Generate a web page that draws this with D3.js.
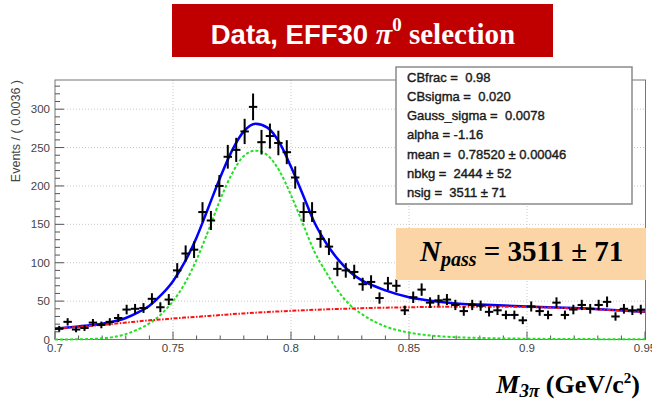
<!DOCTYPE html>
<html>
<head>
<meta charset="utf-8">
<script src="https://cdn.jsdelivr.net/npm/d3@7"></script>
<style>
  body { margin: 0; background: #fff; }
  svg { display: block; }
  text { white-space: pre; }
</style>
</head>
<body>
<svg id="chart" width="652" height="406"></svg>
<script>
// ---- histogram: M(3pi) in 70 bins between 0.70 and 0.95 GeV/c^2 ----
const massLow = 0.7;
const massHigh = 0.95;
const binCounts = [
  14, 23, 13, 15, 22, 19, 23, 28, 39, 40,
  41, 53, 42, 52, 90, 112, 117, 166, 155, 200,
  238, 247, 271, 303, 257, 265, 256, 244, 211, 166,
  166, 131, 121, 92, 90, 88, 72, 75, 54, 73,
  70, 38, 55, 65, 48, 51, 52, 45, 37, 45,
  44, 36, 38, 32, 32, 25, 43, 37, 32, 48,
  32, 39, 45, 40, 45, 49, 30, 40, 38, 39
];

// ---- fitted model, sampled along the mass axis ----
const curveMass = [0.70, 0.71, 0.72, 0.73, 0.735, 0.74, 0.745, 0.75, 0.755, 0.76,
                   0.765, 0.77, 0.775, 0.78, 0.785, 0.79, 0.795, 0.80, 0.805, 0.81,
                   0.815, 0.82, 0.825, 0.83, 0.835, 0.84, 0.85, 0.86, 0.87, 0.88,
                   0.90, 0.92, 0.95];
const totalFit = [14, 17, 20.5, 28, 35, 44, 58, 76, 101, 133,
                  172, 211, 246, 271, 281, 276, 257, 225, 189, 152,
                  125, 104, 88, 77, 70, 64, 55, 50, 47, 45.5,
                  43, 41, 36];
const signalFit = [0, 0.3, 1.5, 7, 13, 21, 33, 50, 73, 104,
                   142, 182, 216, 239, 246, 240, 220, 188, 151, 114,
                   87, 63, 45, 33, 24, 17, 9, 5, 3, 2,
                   1, 0.6, 0.3];
const backgroundFit = [14, 16.5, 19, 22, 23.5, 25, 26, 27.3, 28.5, 29.5,
                       30.7, 31.8, 33, 34, 35, 35.8, 36.6, 37.3, 38, 38.7,
                       39.3, 39.8, 40.3, 40.8, 41.2, 41.5, 42, 42.5, 42.8, 42.8,
                       42.3, 40.5, 36];

// ---- axes and annotations ----
const xMajorTicks = [0.7, 0.75, 0.8, 0.85, 0.9, 0.95];
const xTickLabels = ["0.7", "0.75", "0.8", "0.85", "0.9", "0.95"];
const yMajorTicks = [0, 50, 100, 150, 200, 250, 300];
const yAxisTitle = "Events / ( 0.0036 )";
const fitParameters = [
  "CBfrac =  0.98",
  "CBsigma =  0.020",
  "Gauss_sigma =  0.0078",
  "alpha = -1.16",
  "mean =  0.78520 \u00b1 0.00046",
  "nbkg =  2444 \u00b1 52",
  "nsig =  3511 \u00b1 71"
];
const nPassValue = "3511";
const nPassError = "71";

// ---- layout ----
const frame = { left: 55, right: 645.5, top: 80, bottom: 339.5 };
const svg = d3.select("#chart");

const x = d3.scaleLinear().domain([massLow, massHigh]).range([frame.left, 645]);
const y = d3.scaleLinear().domain([0, 338]).range([frame.bottom, frame.top]);

const sans = "'Liberation Sans', Arial, Helvetica, sans-serif";
const serif = "'Liberation Serif', 'Times New Roman', serif";
const axisGrey = "#555";

// grid
const grid = svg.append("g").attr("stroke", "#c8c8c8").attr("stroke-width", 1)
  .attr("stroke-dasharray", "1,2");
grid.selectAll("line.gx").data(xMajorTicks.slice(1, -1)).join("line")
  .attr("x1", d => x(d)).attr("x2", d => x(d))
  .attr("y1", frame.top).attr("y2", frame.bottom);
grid.selectAll("line.gy").data(yMajorTicks.slice(1)).join("line")
  .attr("x1", frame.left).attr("x2", frame.right)
  .attr("y1", d => y(d)).attr("y2", d => y(d));

// frame
svg.append("rect")
  .attr("x", frame.left).attr("y", frame.top)
  .attr("width", frame.right - frame.left).attr("height", frame.bottom - frame.top)
  .attr("fill", "none").attr("stroke", "#777").attr("stroke-width", 1);

// x ticks (drawn inward, ROOT style)
const xMinor = d3.range(0, 26).map(i => massLow + i * 0.01);
svg.append("g").attr("stroke", axisGrey).attr("stroke-width", 1)
  .selectAll("line").data(xMinor).join("line")
  .attr("x1", d => x(d)).attr("x2", d => x(d))
  .attr("y1", frame.bottom)
  .attr("y2", (d, i) => frame.bottom - (i % 5 === 0 ? 8 : 4));

// y ticks
const yMinor = d3.range(0, 34).map(i => i * 10);
svg.append("g").attr("stroke", axisGrey).attr("stroke-width", 1)
  .selectAll("line").data(yMinor).join("line")
  .attr("x1", frame.left)
  .attr("x2", (d, i) => frame.left + (i % 5 === 0 ? 9 : 5))
  .attr("y1", d => y(d)).attr("y2", d => y(d));

// tick labels
svg.append("g").selectAll("text").data(xMajorTicks).join("text")
  .attr("x", d => x(d)).attr("y", 352)
  .attr("text-anchor", "middle")
  .attr("font-family", sans).attr("font-size", 11.5).attr("fill", "#444")
  .text((d, i) => xTickLabels[i]);
svg.append("g").selectAll("text").data(yMajorTicks).join("text")
  .attr("x", 50).attr("y", d => y(d) + 4)
  .attr("text-anchor", "end")
  .attr("font-family", sans).attr("font-size", 11.5).attr("fill", "#444")
  .text(d => d);

// y axis title
svg.append("text")
  .attr("transform", "translate(20,80) rotate(-90)")
  .attr("text-anchor", "end")
  .attr("font-family", sans).attr("font-size", 12.5).attr("fill", "#444")
  .text(yAxisTitle);

// fit curves
const fitLine = vals => d3.line()
  .x((d, i) => x(curveMass[i]))
  .y(d => y(d))
  .curve(d3.curveMonotoneX)(vals);

svg.append("path").attr("d", fitLine(totalFit))
  .attr("fill", "none").attr("stroke", "#0000ff").attr("stroke-width", 2.5);
svg.append("path").attr("d", fitLine(signalFit))
  .attr("fill", "none").attr("stroke", "#22e022").attr("stroke-width", 2)
  .attr("stroke-dasharray", "3,2");
svg.append("path").attr("d", fitLine(backgroundFit))
  .attr("fill", "none").attr("stroke", "#ff1010").attr("stroke-width", 2)
  .attr("stroke-dasharray", "4,1.5,1.5,1.5");

// data points with Poisson errors
const binWidth = (massHigh - massLow) / binCounts.length;
const points = svg.append("g").attr("stroke", "#000").attr("stroke-width", 2);
binCounts.forEach((n, i) => {
  const lo = massLow + i * binWidth;
  const c = lo + binWidth / 2;
  const err = Math.sqrt(n);
  points.append("line")
    .attr("x1", x(lo)).attr("x2", x(lo + binWidth))
    .attr("y1", y(n)).attr("y2", y(n));
  points.append("line")
    .attr("x1", x(c)).attr("x2", x(c))
    .attr("y1", y(n - err)).attr("y2", y(n + err));
});

// parameter box
svg.append("rect")
  .attr("x", 396).attr("y", 67).attr("width", 236).attr("height", 137)
  .attr("fill", "#fff").attr("stroke", "#8a8a8a").attr("stroke-width", 1.5);
svg.append("g").selectAll("text").data(fitParameters).join("text")
  .attr("x", 407).attr("y", (d, i) => 81.5 + i * 19.3)
  .attr("font-family", sans).attr("font-size", 13).attr("fill", "#1a1a1a")
  .attr("stroke", "#1a1a1a").attr("stroke-width", 0.4)
  .text(d => d);

// N_pass highlight
svg.append("rect")
  .attr("x", 396).attr("y", 228).attr("width", 250).attr("height", 52)
  .attr("fill", "#fbd5a6");
const np = svg.append("text")
  .attr("x", 420).attr("y", 261)
  .attr("font-family", serif).attr("font-weight", "bold").attr("fill", "#000")
  .attr("font-size", 29);
np.append("tspan").attr("font-style", "italic").text("N");
np.append("tspan").attr("font-style", "italic").attr("font-size", 20).attr("dy", 5).text("pass");
np.append("tspan").attr("dy", -5).text(" = " + nPassValue + " \u00b1 " + nPassError);

// title banner
svg.append("rect")
  .attr("x", 172).attr("y", 4).attr("width", 381).attr("height", 53)
  .attr("fill", "#c00000");
const title = svg.append("text")
  .attr("x", 363).attr("y", 43.5).attr("text-anchor", "middle")
  .attr("fill", "#fff").attr("font-weight", "bold");
title.append("tspan").attr("font-family", sans).attr("font-size", 27.5).text("Data, EFF30 ");
title.append("tspan").attr("font-family", serif).attr("font-style", "italic").attr("font-size", 30).text("\u03c0");
title.append("tspan").attr("font-family", serif).attr("font-size", 19).attr("dy", -13).text("0");
title.append("tspan").attr("font-family", serif).attr("font-size", 29).attr("dy", 13).text(" selection");

// x axis title
const xt = svg.append("text")
  .attr("x", 640).attr("y", 393).attr("text-anchor", "end")
  .attr("font-family", serif).attr("font-weight", "bold").attr("fill", "#000")
  .attr("font-size", 26);
xt.append("tspan").attr("font-style", "italic").text("M");
xt.append("tspan").attr("font-style", "italic").attr("font-size", 19).attr("dy", 4).text("3\u03c0");
xt.append("tspan").attr("dy", -4).text(" (GeV/c");
xt.append("tspan").attr("font-size", 15).attr("dy", -10).text("2");
xt.append("tspan").attr("dy", 10).text(")");
</script>
</body>
</html>
